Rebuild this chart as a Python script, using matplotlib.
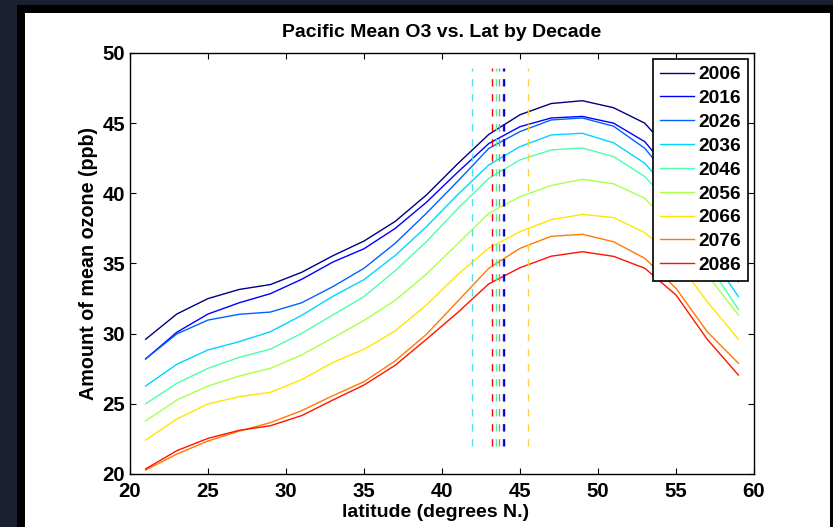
import matplotlib
matplotlib.use('Agg')
import matplotlib.pyplot as plt
import numpy as np
from matplotlib.patches import Rectangle

latitude = [21, 23, 25, 27, 29, 31, 33, 35, 37, 39, 41, 43, 45, 47, 49, 51, 53, 55, 57, 59]
decades = ['2006', '2016', '2026', '2036', '2046', '2056', '2066', '2076', '2086']

o3_2006 = [29.6, 31.4, 32.5, 33.15, 33.5, 34.37, 35.55, 36.6, 38.0, 39.88, 42.1, 44.2, 45.6, 46.4, 46.6, 46.1, 45.0, 42.5, 38.8, 35.5]
o3_2016 = [28.2, 30.1, 31.4, 32.2, 32.85, 33.87, 35.1, 36.05, 37.5, 39.36, 41.5, 43.55, 44.75, 45.37, 45.48, 45.0, 43.68, 41.0, 37.4, 34.2]
o3_2026 = [28.2, 29.98, 30.97, 31.38, 31.54, 32.2, 33.35, 34.66, 36.44, 38.58, 40.85, 43.2, 44.4, 45.23, 45.37, 44.78, 43.21, 40.5, 36.9, 33.7]
o3_2036 = [26.27, 27.82, 28.84, 29.43, 30.14, 31.3, 32.66, 33.85, 35.57, 37.62, 39.9, 42.02, 43.33, 44.16, 44.28, 43.6, 42.14, 39.6, 35.9, 32.64]
o3_2046 = [25.0, 26.46, 27.53, 28.31, 28.9, 30.02, 31.33, 32.64, 34.49, 36.55, 38.9, 41.07, 42.38, 43.09, 43.23, 42.62, 41.19, 38.8, 35.07, 31.73]
o3_2056 = [23.78, 25.27, 26.27, 26.98, 27.53, 28.48, 29.7, 30.94, 32.38, 34.24, 36.4, 38.58, 39.76, 40.56, 41.0, 40.68, 39.64, 37.4, 34.2, 31.33]
o3_2066 = [22.42, 23.92, 24.99, 25.51, 25.82, 26.72, 27.95, 28.88, 30.2, 32.04, 34.2, 36.1, 37.27, 38.12, 38.5, 38.27, 37.2, 35.3, 32.28, 29.6]
o3_2076 = [20.28, 21.42, 22.35, 23.06, 23.66, 24.51, 25.58, 26.58, 28.06, 29.95, 32.3, 34.66, 36.08, 36.94, 37.08, 36.55, 35.37, 33.23, 30.14, 27.89]
o3_2086 = [20.36, 21.66, 22.54, 23.11, 23.44, 24.16, 25.27, 26.34, 27.75, 29.6, 31.5, 33.55, 34.7, 35.52, 35.84, 35.51, 34.66, 32.76, 29.6, 27.05]
series = [o3_2006, o3_2016, o3_2026, o3_2036, o3_2046, o3_2056, o3_2066, o3_2076, o3_2086]

# dashed marker latitudes
dash_lat = [41.92, 43.2, 43.45, 43.68, 43.92, 43.98, 45.5]
dash_colors = ['#4fdff0', '#ff0000', '#50f0a8', '#b88878', '#1a1aff', '#0000c0', '#ffd040']
dash_ymin, dash_ymax = 22.0, 48.9

xticks = [20, 25, 30, 35, 40, 45, 50, 55, 60]
yticks = [20, 25, 30, 35, 40, 45, 50]

plt.rcParams['font.family'] = ['Liberation Sans', 'DejaVu Sans']
plt.rcParams['font.weight'] = 'bold'

W, H = 833, 527
fig = plt.figure(figsize=(W / 100, H / 100), dpi=100, facecolor='#1b2030')
fig.patches.append(Rectangle((17 / W, 0), 1 - 17 / W, 522 / H, transform=fig.transFigure,
                             facecolor='black', edgecolor='none', zorder=-2))
fig.patches.append(Rectangle((25 / W, 0), 805 / W, 514 / H, transform=fig.transFigure,
                             facecolor='white', edgecolor='none', zorder=-1))

ax = fig.add_axes([130 / W, 1 - 474 / H, 624 / W, 421 / H])
colors = plt.cm.jet(np.arange(9) / 9)
for lab, vals, c in zip(decades, series, colors):
    ax.plot(latitude, vals, color=c, lw=1.0, label=lab)
for x, c in zip(dash_lat, dash_colors):
    ax.plot([x, x], [dash_ymin, dash_ymax], color=c, lw=1.0, dashes=(5.3, 5.5))

ax.set_xlim(20, 60)
ax.set_ylim(20, 50)
ax.set_xticks(xticks)
ax.set_yticks(yticks)
ax.tick_params(direction='in', top=True, right=True, length=4.5, width=0.8, labelsize=14.7)
ax.tick_params(axis='x', pad=6)
ax.tick_params(axis='y', pad=3.5)
for s in ax.spines.values():
    s.set_linewidth(1.0)

ax.set_title('Pacific Mean O3 vs. Lat by Decade', fontsize=14, fontweight='bold', pad=11.5)
ax.set_xlabel('latitude (degrees N.)', fontsize=14, fontweight='bold', labelpad=1)
ax.xaxis.set_label_coords(0.49, -0.0705)
ax.xaxis.label.set_verticalalignment('top')
ax.set_ylabel('Amount of mean ozone (ppb)', fontsize=14.2, fontweight='bold', labelpad=3)

leg = ax.legend(loc='upper right', bbox_to_anchor=(0.9904, 0.9857), borderaxespad=0,
                fontsize=13.8, frameon=True, fancybox=False, framealpha=1,
                edgecolor='black', handlelength=1.8, handletextpad=0.22,
                labelspacing=0.335, borderpad=0.36)
leg.get_frame().set_linewidth(1.2)

fig.savefig('out.png', dpi=100, facecolor=fig.get_facecolor())
